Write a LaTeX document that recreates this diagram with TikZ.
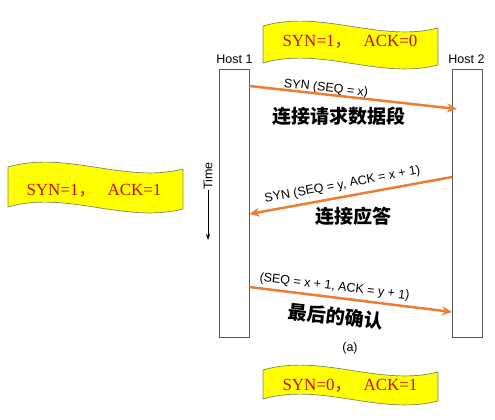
\documentclass[tikz,border=0pt]{standalone}
\usepackage{fontspec}
\setmainfont{Liberation Serif}
\setsansfont{Liberation Sans}
\newfontfamily\cjk{Noto Sans CJK SC}
\usetikzlibrary{arrows.meta}
\definecolor{orangeA}{RGB}{237,125,49}
\definecolor{bannerred}{RGB}{200,12,12}
\definecolor{bannerline}{RGB}{125,135,95}
\definecolor{bannerfill}{RGB}{255,255,0}
\newcommand\wavebox[4]{%
  \path[banner] (#1,#2) .. controls ({#1+#3/3},{#2-17}) and ({#1+2*#3/3},{#2+17}) .. ({#1+#3},{#2+2})
    -- ({#1+#3},{#2+#4+2}) .. controls ({#1+2*#3/3},{#2+#4+17}) and ({#1+#3/3},{#2+#4-17}) .. (#1,{#2+#4}) -- cycle;}
\tikzset{
  hostbox/.style={draw=black!65, line width=0.9pt, minimum width=30pt, minimum height=268pt, inner sep=0pt},
  sanslabel/.style={font=\sffamily\fontsize{12.5}{14}\selectfont, inner sep=0pt},
  flow/.style={draw=orangeA, line width=2.5pt, -{Stealth[length=10pt,width=9pt]}},
  cn/.style={font=\cjk\bfseries\fontsize{19}{20}\selectfont, inner sep=0pt},
  banner/.style={fill=bannerfill, draw=bannerline, line width=0.7pt},
  bannertext/.style={font=\fontsize{17}{18}\selectfont, text=bannerred, inner sep=0pt},
  timearrow/.style={draw=black, line width=0.6pt, -{Stealth[length=6pt,width=4pt]}}
}
\begin{document}
\begin{tikzpicture}[x=1pt,y=-1pt]
\useasboundingbox (0,0) rectangle (495,420);
% banners
\wavebox{263}{26}{175}{37}
\node[bannertext] (b1) at (350,42) {SYN=1{\cjk ，}\hspace{0.7em}ACK=0};
\wavebox{8}{167}{175}{40}
\node[bannertext] (b2) at (94,191) {SYN=1{\cjk ，}\hspace{0.7em}ACK=1};
\wavebox{263}{370}{175}{29}
\node[bannertext] (b3) at (350,386) {SYN=0{\cjk ，}\hspace{0.7em}ACK=1};
% hosts
\node[hostbox] (h1) at (234,203.5) {};
\node[hostbox] (h2) at (467.5,203.5) {};
\node[sanslabel] (h1lab) at (234.5,59.5) {Host 1};
\node[sanslabel] (h2lab) at (466.5,59.5) {Host 2};
% time
\node[sanslabel, rotate=90] (time) at (208,176) {Time};
\coordinate (tend) at (208,240);
\draw[timearrow] (time.west) -- (tend);
% helper coordinates
\coordinate (a1s) at (249,86);
\coordinate (a1e) at (457,109);
\coordinate (a2s) at (452,177);
\coordinate (a2e) at (250,214);
\coordinate (a3s) at (250,287);
\coordinate (a3e) at (452,312);
% message 1
\node[sanslabel, rotate=-6.3] (m1) at (326,88.5) {SYN (SEQ = x)};
\draw[flow] (h1.east |- a1s) -- (a1e);
\node[cn] (c1) at (338.5,116) {连接请求数据段};
% message 2
\node[sanslabel, rotate=10.4] (m2) at (342.5,185) {SYN (SEQ = y, ACK = x + 1)};
\draw[flow] (h2.west |- a2s) -- (h1.east |- a2e);
\node[cn] (c2) at (353.5,216) {连接应答};
% message 3
\node[sanslabel, rotate=-7] (m3) at (334.5,287) {(SEQ = x + 1, ACK = y + 1)};
\draw[flow] (h1.east |- a3s) -- (h2.west |- a3e);
\node[cn, rotate=-6.5] (c3) at (335.5,316.5) {最后的确认};
\node[sanslabel] (cap) at (350,348) {(a)};
\end{tikzpicture}
\end{document}
